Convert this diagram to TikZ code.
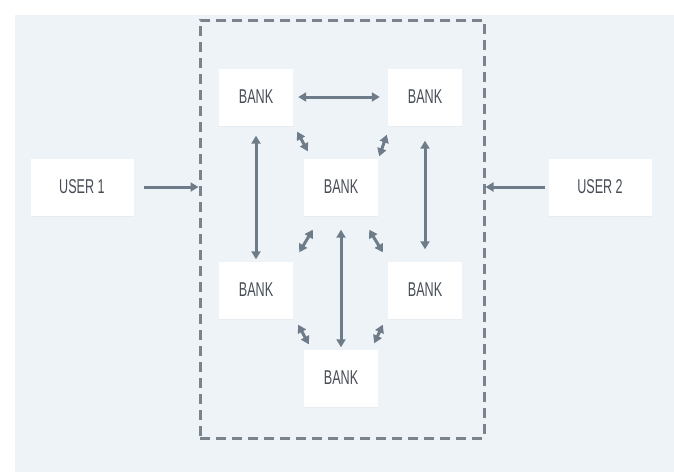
\documentclass[tikz,border=0pt]{standalone}
\usepackage{fontspec}
\usepackage{xcolor}
\usetikzlibrary{arrows.meta, shadows}
\newfontfamily\bankfont[FakeStretch=0.63]{Liberation Sans}
\definecolor{panel}{HTML}{EEF3F8}
\definecolor{linkgray}{HTML}{6E7B88}
\definecolor{framegray}{HTML}{7B848D}
\definecolor{labelgray}{HTML}{474E57}
\tikzset{
  box/.style={fill=white, minimum height=57pt, font=\bankfont\fontsize{20}{20}\selectfont,
    text=labelgray, drop shadow={opacity=0.06, shadow xshift=0pt, shadow yshift=-1.5pt}},
  bank/.style={box, minimum width=74pt},
  user/.style={box, minimum width=103pt},
  link/.style={draw=linkgray, line width=3pt, -{Triangle[length=8pt, width=9pt]}},
  dlink/.style={link, {Triangle[length=8pt, width=9pt]}-{Triangle[length=8pt, width=9pt]}}
}

\begin{document}
\begin{tikzpicture}[x=1pt, y=-1pt]
        \useasboundingbox[fill=white] (0, 0) rectangle (674, 472);
        \fill[panel] (15, 15) rectangle (674, 472);
        \node[draw=framegray, line width=3pt, dash pattern=on 10pt off 6pt,
          minimum width=284pt, minimum height=418pt] (net) at (342, 229) {};
        \node[user] (U1) at (82, 187) {USER 1};
        \node[user] (U2) at (600, 187) {USER 2};
        \node[bank] (TL) at (256, 97) {BANK};
        \node[bank] (TR) at (425, 97) {BANK};
        \node[bank] (C) at (341, 187) {BANK};
        \node[bank] (BL) at (256, 290) {BANK};
        \node[bank] (BR) at (425, 290) {BANK};
        \node[bank] (B) at (341, 378) {BANK};
        \draw[link, shorten <=10pt] (U1) -- (U1 -| net.west);
        \draw[link, shorten <=3pt] (U2) -- (U2 -| net.east);
        \draw[dlink, shorten <=5pt, shorten >=8pt] (TL) -- (TR);
        \draw[dlink, shorten <=10pt, shorten >=2pt] (TL) -- (BL);
        \draw[dlink, shorten <=15pt, shorten >=12pt] (TR) -- (BR);
        \draw[dlink, shorten <=14pt, shorten >=2pt] (C) -- (B);
        % short diagonal links
        \draw[dlink] ([shift={(4,6)}]TL.south east) -- ([shift={(4,-7)}]C.north west);
        \draw[dlink] ([shift={(-1,9)}]TR.south west) -- ([shift={(1,-2)}]C.north east);
        \draw[dlink] ([shift={(9,14)}]C.south west) -- ([shift={(6,-9)}]BL.north east);
        \draw[dlink] ([shift={(-9,14)}]C.south east) -- ([shift={(-5,-9)}]BR.north west);
        \draw[dlink] ([shift={(5,6)}]BL.south east) -- ([shift={(5,-5)}]B.north west);
        \draw[dlink] ([shift={(-5,6)}]BR.south west) -- ([shift={(-4,-6)}]B.north east);
      \end{tikzpicture}
\end{document}
